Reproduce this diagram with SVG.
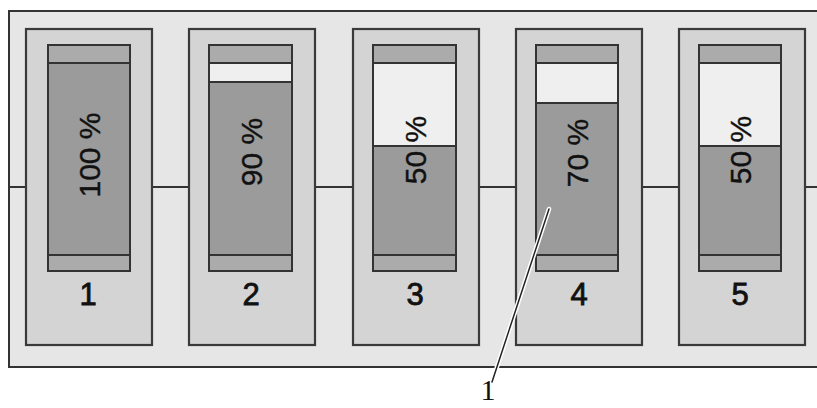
<svg xmlns="http://www.w3.org/2000/svg" width="817" height="408" viewBox="0 0 817 408">
<style>
.frame{fill:#e6e6e6;stroke:#333;stroke-width:2}
.cell{fill:#d4d4d4;stroke:#3a3a3a;stroke-width:2.2}
.bar{fill:#9b9b9b}
.cap{fill:#ababab;stroke:#333;stroke-width:2}
.empty{fill:#efefef}
.lvl{stroke:#333;stroke-width:2}
.pct{font-family:"Liberation Sans",Arial,sans-serif;font-size:30px;fill:#111;text-anchor:middle;stroke:#111;stroke-width:0.4}
.num{font-family:"Liberation Sans",Arial,sans-serif;font-size:31px;fill:#111;text-anchor:middle;stroke:#111;stroke-width:0.8}
.outline{fill:none;stroke:#333;stroke-width:2}
</style>
<rect width="817" height="408" fill="#ffffff"/>
<rect class="frame" x="9" y="11" width="820" height="356"/>
<g id="connectors">
<line x1="9" y1="187" x2="817" y2="187" stroke="#333" stroke-width="2"/>
</g>
<g id="cell1">
<rect class="cell" x="26" y="29" width="126" height="316"/>
<rect class="bar" x="48" y="45" width="82" height="226"/>
<rect class="cap" x="48" y="45" width="82" height="18"/>
<rect class="cap" x="48" y="255" width="82" height="16"/>
<rect class="outline" x="48" y="45" width="82" height="226"/>
<text class="pct" transform="translate(89,155) rotate(-90)" dy="0.36em">100 %</text>
<text class="num" x="88" y="305">1</text>
</g>
<g id="cell2">
<rect class="cell" x="189" y="29" width="126" height="316"/>
<rect class="bar" x="209" y="45" width="83" height="226"/>
<rect class="empty" x="209" y="63" width="83" height="19"/>
<line class="lvl" x1="209" y1="82" x2="292" y2="82"/>
<rect class="cap" x="209" y="45" width="83" height="18"/>
<rect class="cap" x="209" y="255" width="83" height="16"/>
<rect class="outline" x="209" y="45" width="83" height="226"/>
<text class="pct" transform="translate(251,152) rotate(-90)" dy="0.36em">90 %</text>
<text class="num" x="251" y="305">2</text>
</g>
<g id="cell3">
<rect class="cell" x="353" y="29" width="126" height="316"/>
<rect class="bar" x="373" y="45" width="83" height="226"/>
<rect class="empty" x="373" y="63" width="83" height="83"/>
<line class="lvl" x1="373" y1="146" x2="456" y2="146"/>
<rect class="cap" x="373" y="45" width="83" height="18"/>
<rect class="cap" x="373" y="255" width="83" height="16"/>
<rect class="outline" x="373" y="45" width="83" height="226"/>
<text class="pct" transform="translate(415,150) rotate(-90)" dy="0.36em">50 %</text>
<text class="num" x="415" y="305">3</text>
</g>
<g id="cell4">
<rect class="cell" x="516" y="29" width="126" height="316"/>
<rect class="bar" x="536" y="45" width="82" height="226"/>
<rect class="empty" x="536" y="63" width="82" height="40"/>
<line class="lvl" x1="536" y1="103" x2="618" y2="103"/>
<rect class="cap" x="536" y="45" width="82" height="18"/>
<rect class="cap" x="536" y="255" width="82" height="16"/>
<rect class="outline" x="536" y="45" width="82" height="226"/>
<text class="pct" transform="translate(577,153) rotate(-90)" dy="0.36em">70 %</text>
<text class="num" x="579" y="305">4</text>
</g>
<g id="cell5">
<rect class="cell" x="679" y="29" width="126" height="316"/>
<rect class="bar" x="699" y="45" width="82" height="226"/>
<rect class="empty" x="699" y="63" width="82" height="83"/>
<line class="lvl" x1="699" y1="146" x2="781" y2="146"/>
<rect class="cap" x="699" y="45" width="82" height="18"/>
<rect class="cap" x="699" y="255" width="82" height="16"/>
<rect class="outline" x="699" y="45" width="82" height="226"/>
<text class="pct" transform="translate(740,150) rotate(-90)" dy="0.36em">50 %</text>
<text class="num" x="740" y="305">5</text>
</g>
<g id="pointer">
<line x1="549" y1="209" x2="492" y2="382" stroke="#ffffff" stroke-width="4.5" stroke-linecap="round"/>
<line x1="549" y1="209" x2="492" y2="382" stroke="#222" stroke-width="1.5" stroke-linecap="round"/>
<text x="488" y="400" font-family="'Liberation Serif','Times New Roman',serif" font-size="30" fill="#111" text-anchor="middle">1</text>
</g>
</svg>
